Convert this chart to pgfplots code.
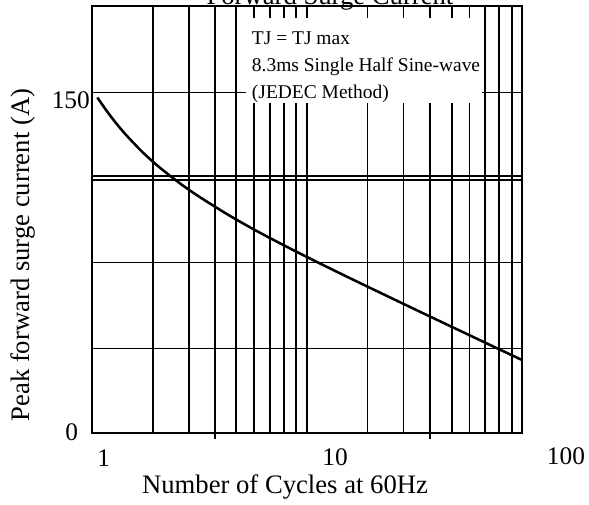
\documentclass[border=0pt]{standalone}
\usepackage{pgfplots}
\pgfplotsset{compat=1.18}
\usepackage{fontspec}
\setmainfont{Liberation Serif}
\begin{document}
\begin{tikzpicture}
\begin{axis}[
 name=ax, at={(0,0)}, anchor=south west,
 scale only axis, width=322.5pt, height=319.8pt,
 xmode=log, xmin=1, xmax=100, ymin=0, ymax=188,
 clip=false,
 axis line style={line width=1.25pt},
 xtick={1.922,2.835,3.746,4.691,5.705,6.751,7.843,8.917,10,19.18,28.14,37.46,47.26,57.05,67.5,78.67,89.86},
 xticklabels={}, ytick={37.2,75,111.5,113.1,150}, yticklabels={},
 minor xtick={}, minor ytick={},
 major tick length=0pt,
 xmajorgrids, ymajorgrids, grid style={black, line width=1.2pt},
 xtick pos=bottom, ytick pos=left,
 extra x ticks={3.746,37.46}, extra x tick labels={},
 extra x tick style={tick align=outside, major tick length=4.8pt, xmajorgrids=false, tick style={black, line width=1.2pt}},
]
\addplot[black, line width=1.9pt, smooth] coordinates {
(1.062,147.8) (1.182,141.5) (1.315,135.8) (1.464,130.7) (1.719,123.8) (2.019,117.8)
(2.501,110.8) (3.099,104.6) (4.273,96.3) (5.89,88.8) (9.04,79.6) (15.45,68.7)
(26.39,58.1) (45.08,47.6) (100,32.1)};
\fill[white] (axis cs:5.22,145.3) rectangle (axis cs:65.36,182.8);
\node[anchor=base west, inner sep=0pt, font=\fontsize{14.6}{17}\selectfont] at (axis cs:5.55,171.3) {TJ = TJ max};
\node[anchor=base west, inner sep=0pt, font=\fontsize{14.6}{17}\selectfont] at (axis cs:5.55,159.4) {8.3ms Single Half Sine-wave};
\node[anchor=base west, inner sep=0pt, font=\fontsize{14.6}{17}\selectfont] at (axis cs:5.55,147.5) {(JEDEC Method)};
% tick labels
\node[inner sep=0pt, font=\fontsize{19}{22}\selectfont] at (axis cs:0.807,0.4) {0};
\node[inner sep=0pt, font=\fontsize{19}{22}\selectfont] at (axis cs:0.7994,146.6) {150};
\node[inner sep=0pt, font=\fontsize{19}{22}\selectfont] at (axis cs:1.137,-11.15) {1};
\node[inner sep=0pt, font=\fontsize{19}{22}\selectfont] at (axis cs:13.54,-10.7) {10};
\node[inner sep=0pt, font=\fontsize{19}{22}\selectfont] at (axis cs:160.7,-10.3) {100};
% axis labels and title
\node[inner sep=0pt, font=\fontsize{20}{24}\selectfont] at (axis cs:7.93,-23.9) {Number of Cycles at 60Hz};
\node[inner sep=0pt, rotate=90, font=\fontsize{20}{24}\selectfont] at (axis cs:0.481,78.3) {Peak forward surge current (A)};
\node[anchor=base, inner sep=0pt, font=\fontsize{20}{24}\selectfont] at (axis cs:12.83,188.7) {Forward Surge Current};
\end{axis}
\pgfresetboundingbox
\path[use as bounding box] ([xshift=-68.78pt,yshift=-53.48pt]ax.south west) rectangle ++(441.75pt,378pt);
\end{tikzpicture}
\end{document}
